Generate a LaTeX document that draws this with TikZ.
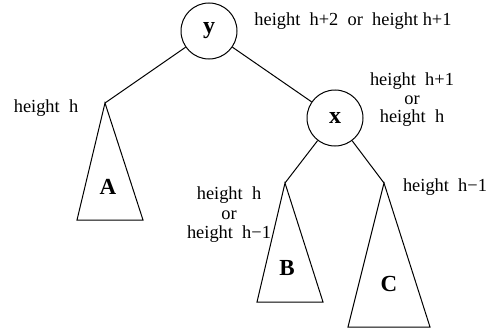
\documentclass[tikz,border=0pt]{standalone}
\usepackage{fontspec}
\setmainfont{Liberation Serif}
\begin{document}
\begin{tikzpicture}[
  x=0.5pt, y=-0.5pt,
  line width=0.5pt,
  avl/.style={circle, draw, inner sep=0pt, minimum size=28pt, font=\fontsize{12}{14}\selectfont\bfseries},
  sub/.style={inner sep=0pt, font=\fontsize{11.5}{14}\selectfont\bfseries},
  note/.style={inner sep=0pt, font=\fontsize{9.2}{9.2}\selectfont, align=center}
]
\useasboundingbox (0,0) rectangle (488,332);

\node[avl] (nodey) at (209,31) {y};
\node[avl] (nodex) at (335,118) {x};

\coordinate (topA) at (105,103);
\coordinate (topB) at (285,183);
\coordinate (topC) at (384,183);

\draw (topA) -- (77,220) -- (143,220) -- cycle;
\draw (topB) -- (257,302) -- (323,302) -- cycle;
\draw (topC) -- (348,327) -- (430,327) -- cycle;

\node[sub] (subA) at (108,187) {A};
\node[sub] (subB) at (287,268) {B};
\node[sub] (subC) at (389,284) {C};

\draw (nodey) -- (topA);
\draw (nodey) -- (nodex);
\draw (nodex) -- (topB);
\draw (nodex) -- (topC);

\node[note] (hy) at (353,21) {height~~h+2~~or~~height h+1};
\node[note] (hx) at (412,100) {height~~h+1\\or\\height~~h};
\node[note] (hA) at (46,108) {height~~h};
\node[note, font=\fontsize{9.2}{9.8}\selectfont] (hB) at (229,215) {height~~h\\or\\height~~h−1};
\node[note] (hC) at (445,187) {height~~h−1};
\end{tikzpicture}
\end{document}
